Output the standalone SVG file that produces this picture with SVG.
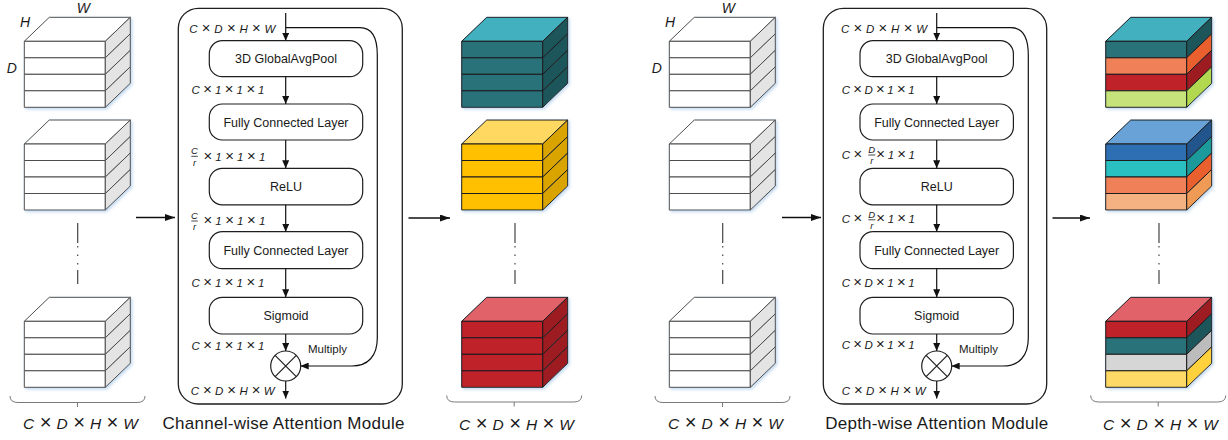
<svg xmlns="http://www.w3.org/2000/svg" xmlns:xlink="http://www.w3.org/1999/xlink" width="1228" height="440" viewBox="0 0 1228 440">
  <style>
    text { font-family: "Liberation Sans", Arial, sans-serif; fill: #1a1a1a; }
    .dim { font-style: italic; font-size: 11.5px; }
    .frac { font-style: italic; font-size: 9.5px; text-anchor: middle; }
    .axis { font-style: italic; font-size: 14px; }
    .total { font-style: italic; font-size: 15.5px; }
    .title { font-size: 17px; }
    .lbl { font-size: 12.5px; text-anchor: middle; }
    .mul { font-size: 11.5px; }
    .x { font-size: 1.3em; }
    .bar { stroke: #1a1a1a; stroke-width: 0.8; }
    .frame { fill: #fff; stroke: #1e1e1e; stroke-width: 1.3; }
    .box { fill: #fff; stroke: #1e1e1e; stroke-width: 1.2; }
    .flow { fill: none; stroke: #111; stroke-width: 1.2; }
    .big { fill: none; stroke: #111; stroke-width: 1.6; }
    .brace { fill: none; stroke: #7a7a7a; stroke-width: 1; }
    .dots { fill: none; stroke: #444; stroke-width: 1.2; }
    .white { --t:#fff; --f1:#fff; --f2:#fff; --f3:#fff; --f4:#fff; --s1:#e4e4e4; --s2:#e4e4e4; --s3:#e4e4e4; --s4:#e4e4e4; stroke:#4d4d4d; }
    .teal { --t:#43b0be; --f1:#2c7279; --f2:#2c7279; --f3:#2c7279; --f4:#2c7279; --s1:#1e545a; --s2:#1e545a; --s3:#1e545a; --s4:#1e545a; stroke:#1a1a1a; }
    .gold { --t:#ffd862; --f1:#ffc000; --f2:#ffc000; --f3:#ffc000; --f4:#ffc000; --s1:#d9a400; --s2:#d9a400; --s3:#d9a400; --s4:#d9a400; stroke:#1a1a1a; }
    .red { --t:#e2626b; --f1:#c0222b; --f2:#c0222b; --f3:#c0222b; --f4:#c0222b; --s1:#9d1b22; --s2:#9d1b22; --s3:#9d1b22; --s4:#9d1b22; stroke:#1a1a1a; }
    .mixA { --t:#43b0be; --f1:#2c7279; --f2:#f08058; --f3:#c0222b; --f4:#c6e27a; --s1:#1e545a; --s2:#e95e2e; --s3:#9d1b22; --s4:#b2d84f; stroke:#1a1a1a; }
    .mixB { --t:#68a2d6; --f1:#2f6eb2; --f2:#2abfc0; --f3:#f08058; --f4:#f4b182; --s1:#23548c; --s2:#1f9a9b; --s3:#e95e2e; --s4:#f09b55; stroke:#1a1a1a; }
    .mixC { --t:#e2626b; --f1:#c0222b; --f2:#2c7279; --f3:#d6d6d6; --f4:#ffd966; --s1:#9d1b22; --s2:#1e545a; --s3:#bcbcbc; --s4:#ffd23d; stroke:#1a1a1a; }
  </style>
  <defs>
    <filter id="glow" x="-20%" y="-20%" width="140%" height="140%">
      <feDropShadow dx="1.5" dy="1.5" stdDeviation="1.5" flood-color="#8fb8e0" flood-opacity="0.55"/>
    </filter>
    <marker id="ah" viewBox="0 0 8 7" refX="8" refY="3.5" markerWidth="8" markerHeight="7" markerUnits="userSpaceOnUse" orient="auto">
      <path d="M0,0 L8,3.5 L0,7 z" fill="#111"/>
    </marker>
    <marker id="ahBig" viewBox="0 0 10 7" refX="10" refY="3.5" markerWidth="10" markerHeight="7" markerUnits="userSpaceOnUse" orient="auto">
      <path d="M0,0 L10,3.5 L0,7 z" fill="#111"/>
    </marker>
    <!-- four-slice cube; colours come from custom properties on the <use> -->
    <g id="cube" stroke-width="1" stroke-linejoin="round">
      <polygon points="0,24 25,0 106,0 81,24" style="fill:var(--t)"/>
      <rect x="0" y="24" width="81" height="16.5" style="fill:var(--f1)"/>
      <rect x="0" y="40.5" width="81" height="16.5" style="fill:var(--f2)"/>
      <rect x="0" y="57" width="81" height="16.5" style="fill:var(--f3)"/>
      <rect x="0" y="73.5" width="81" height="16.5" style="fill:var(--f4)"/>
      <polygon points="81,24 106,0 106,16.5 81,40.5" style="fill:var(--s1)"/>
      <polygon points="81,40.5 106,16.5 106,33 81,57" style="fill:var(--s2)"/>
      <polygon points="81,57 106,33 106,49.5 81,73.5" style="fill:var(--s3)"/>
      <polygon points="81,73.5 106,49.5 106,66 81,90" style="fill:var(--s4)"/>
    </g>
    <g id="vdots" class="dots">
      <line x1="0" y1="223" x2="0" y2="243"/>
      <line x1="0" y1="246" x2="0" y2="247.5"/>
      <line x1="0" y1="254.5" x2="0" y2="256"/>
      <line x1="0" y1="263" x2="0" y2="264.5"/>
      <line x1="0" y1="270" x2="0" y2="284"/>
    </g>
    <path id="brace" class="brace" d="M0,396 Q0,402.5 8,402.5 H127 Q135,402.5 135,396 M67.5,402.5 V407"/>
  </defs>

  <!-- ============ Channel-wise part ============ -->
  <g id="input-left">
    <use xlink:href="#cube" class="white" transform="translate(24.3,17.3)" filter="url(#glow)"/>
    <use xlink:href="#cube" class="white" transform="translate(24.3,120)" filter="url(#glow)"/>
    <use xlink:href="#cube" class="white" transform="translate(24.3,297.3)" filter="url(#glow)"/>
    <use xlink:href="#vdots" transform="translate(77.7,0)"/>
    <use xlink:href="#brace" transform="translate(10,0)"/>
    <text class="axis" x="76.7" y="12.7">W</text>
    <text class="axis" x="20" y="26.7">H</text>
    <text class="axis" x="6.7" y="73.3">D</text>
    <text class="total" x="23" y="429" textLength="115">C <tspan class="x">×</tspan> D <tspan class="x">×</tspan> H <tspan class="x">×</tspan> W</text>
  </g>

  <g id="channel-module">
    <rect class="frame" x="178.3" y="8.3" width="224" height="395.7" rx="20"/>
    <g id="ch-pool">
      <rect class="box" x="209.3" y="40.7" width="153.4" height="36" rx="13"/>
      <text class="lbl" x="286" y="63">3D GlobalAvgPool</text>
    </g>
    <g id="ch-fc1">
      <rect class="box" x="209.3" y="104" width="153.4" height="36" rx="13"/>
      <text class="lbl" x="286" y="126.5">Fully Connected Layer</text>
    </g>
    <g id="ch-relu">
      <rect class="box" x="209.3" y="168.3" width="153.4" height="36.5" rx="13"/>
      <text class="lbl" x="286" y="191">ReLU</text>
    </g>
    <g id="ch-fc2">
      <rect class="box" x="209.3" y="231.7" width="153.4" height="37" rx="13"/>
      <text class="lbl" x="286" y="254.5">Fully Connected Layer</text>
    </g>
    <g id="ch-sigmoid">
      <rect class="box" x="209.3" y="297.3" width="153.4" height="36.7" rx="13"/>
      <text class="lbl" x="286" y="320">Sigmoid</text>
    </g>
    <g id="ch-multiply">
      <circle cx="285.7" cy="366" r="15" fill="#fff" stroke="#1e1e1e" stroke-width="1.2"/>
      <path d="M275.1,355.4 L296.3,376.6 M296.3,355.4 L275.1,376.6" stroke="#1e1e1e" stroke-width="1.2"/>
      <text class="mul" x="308" y="353.3">Multiply</text>
    </g>
    <g id="ch-dims">
      <text class="dim" x="189.3" y="33.3" textLength="86">C <tspan class="x">×</tspan> D <tspan class="x">×</tspan> H <tspan class="x">×</tspan> W</text>
      <text class="dim" x="191.5" y="94.3" textLength="73">C <tspan class="x">×</tspan> 1 <tspan class="x">×</tspan> 1 <tspan class="x">×</tspan> 1</text>
      <text class="frac" x="194.5" y="154.3">C</text>
      <line class="bar" x1="191.3" y1="156.3" x2="197.8" y2="156.3"/>
      <text class="frac" x="194.5" y="165.5">r</text>
      <text class="dim" x="203.3" y="160.7" textLength="62"><tspan class="x">×</tspan> 1 <tspan class="x">×</tspan> 1 <tspan class="x">×</tspan> 1</text>
      <text class="frac" x="194.5" y="219">C</text>
      <line class="bar" x1="191.3" y1="221" x2="197.8" y2="221"/>
      <text class="frac" x="194.5" y="230.2">r</text>
      <text class="dim" x="203.3" y="225" textLength="62"><tspan class="x">×</tspan> 1 <tspan class="x">×</tspan> 1 <tspan class="x">×</tspan> 1</text>
      <text class="dim" x="191.5" y="286.5" textLength="73">C <tspan class="x">×</tspan> 1 <tspan class="x">×</tspan> 1 <tspan class="x">×</tspan> 1</text>
      <text class="dim" x="191.5" y="350" textLength="73">C <tspan class="x">×</tspan> 1 <tspan class="x">×</tspan> 1 <tspan class="x">×</tspan> 1</text>
      <text class="dim" x="190.7" y="395" textLength="84">C <tspan class="x">×</tspan> D <tspan class="x">×</tspan> H <tspan class="x">×</tspan> W</text>
    </g>
    <text class="title" x="283.5" y="429" text-anchor="middle" textLength="242">Channel-wise Attention Module</text>
  </g>

  <g id="output-left">
    <use xlink:href="#cube" class="teal" transform="translate(461.7,17.3)" filter="url(#glow)"/>
    <use xlink:href="#cube" class="gold" transform="translate(461.7,120)" filter="url(#glow)"/>
    <use xlink:href="#cube" class="red" transform="translate(461.7,297.3)" filter="url(#glow)"/>
    <use xlink:href="#vdots" transform="translate(515,0)"/>
    <use xlink:href="#brace" transform="translate(446.7,-0.5)"/>
    <text class="total" x="459" y="430" textLength="115">C <tspan class="x">×</tspan> D <tspan class="x">×</tspan> H <tspan class="x">×</tspan> W</text>
  </g>

  <!-- ============ Depth-wise part ============ -->
  <g id="input-right">
    <use xlink:href="#cube" class="white" transform="translate(669.3,17.3)" filter="url(#glow)"/>
    <use xlink:href="#cube" class="white" transform="translate(669.3,120)" filter="url(#glow)"/>
    <use xlink:href="#cube" class="white" transform="translate(669.3,297.3)" filter="url(#glow)"/>
    <use xlink:href="#vdots" transform="translate(722.7,0)"/>
    <use xlink:href="#brace" transform="translate(655,0)"/>
    <text class="axis" x="721.7" y="12.7">W</text>
    <text class="axis" x="665" y="26.7">H</text>
    <text class="axis" x="651.7" y="73.3">D</text>
    <text class="total" x="668" y="429" textLength="115">C <tspan class="x">×</tspan> D <tspan class="x">×</tspan> H <tspan class="x">×</tspan> W</text>
  </g>

  <g id="depth-module">
    <rect class="frame" x="823.3" y="8.3" width="223.4" height="395.7" rx="20"/>
    <g id="dp-pool">
      <rect class="box" x="860" y="40.7" width="153.4" height="36" rx="13"/>
      <text class="lbl" x="936.7" y="63">3D GlobalAvgPool</text>
    </g>
    <g id="dp-fc1">
      <rect class="box" x="860" y="104" width="153.4" height="36" rx="13"/>
      <text class="lbl" x="936.7" y="126.5">Fully Connected Layer</text>
    </g>
    <g id="dp-relu">
      <rect class="box" x="860" y="168.3" width="153.4" height="36.5" rx="13"/>
      <text class="lbl" x="936.7" y="191">ReLU</text>
    </g>
    <g id="dp-fc2">
      <rect class="box" x="860" y="231.7" width="153.4" height="37" rx="13"/>
      <text class="lbl" x="936.7" y="254.5">Fully Connected Layer</text>
    </g>
    <g id="dp-sigmoid">
      <rect class="box" x="860" y="297.3" width="153.4" height="36.7" rx="13"/>
      <text class="lbl" x="936.7" y="320">Sigmoid</text>
    </g>
    <g id="dp-multiply">
      <circle cx="936.7" cy="366" r="15" fill="#fff" stroke="#1e1e1e" stroke-width="1.2"/>
      <path d="M926.1,355.4 L947.3,376.6 M947.3,355.4 L926.1,376.6" stroke="#1e1e1e" stroke-width="1.2"/>
      <text class="mul" x="959" y="353.3">Multiply</text>
    </g>
    <g id="dp-dims">
      <text class="dim" x="841" y="33.3" textLength="86">C <tspan class="x">×</tspan> D <tspan class="x">×</tspan> H <tspan class="x">×</tspan> W</text>
      <text class="dim" x="841.7" y="94.3" textLength="73">C <tspan class="x">×</tspan> D <tspan class="x">×</tspan> 1 <tspan class="x">×</tspan> 1</text>
      <text class="dim" x="841.7" y="159.3">C <tspan class="x">×</tspan></text>
      <text class="frac" x="871.8" y="153">D</text>
      <line class="bar" x1="868.3" y1="155" x2="875.3" y2="155"/>
      <text class="frac" x="871.8" y="164.2">r</text>
      <text class="dim" x="876" y="159.3" textLength="39"><tspan class="x">×</tspan> 1 <tspan class="x">×</tspan> 1</text>
      <text class="dim" x="841.7" y="223.3">C <tspan class="x">×</tspan></text>
      <text class="frac" x="871.8" y="217.8">D</text>
      <line class="bar" x1="868.3" y1="219.8" x2="875.3" y2="219.8"/>
      <text class="frac" x="871.8" y="229">r</text>
      <text class="dim" x="876" y="223.3" textLength="39"><tspan class="x">×</tspan> 1 <tspan class="x">×</tspan> 1</text>
      <text class="dim" x="841.7" y="286.5" textLength="73">C <tspan class="x">×</tspan> D <tspan class="x">×</tspan> 1 <tspan class="x">×</tspan> 1</text>
      <text class="dim" x="841.7" y="349" textLength="73">C <tspan class="x">×</tspan> D <tspan class="x">×</tspan> 1 <tspan class="x">×</tspan> 1</text>
      <text class="dim" x="841.7" y="395" textLength="84">C <tspan class="x">×</tspan> D <tspan class="x">×</tspan> H <tspan class="x">×</tspan> W</text>
    </g>
    <text class="title" x="936.7" y="429" text-anchor="middle" textLength="223">Depth-wise Attention Module</text>
  </g>

  <g id="output-right">
    <use xlink:href="#cube" class="mixA" transform="translate(1105.7,17.3)" filter="url(#glow)"/>
    <use xlink:href="#cube" class="mixB" transform="translate(1105.7,120)" filter="url(#glow)"/>
    <use xlink:href="#cube" class="mixC" transform="translate(1105.7,297.3)" filter="url(#glow)"/>
    <use xlink:href="#vdots" transform="translate(1159,0)"/>
    <use xlink:href="#brace" transform="translate(1090.7,-0.5)"/>
    <text class="total" x="1103" y="430" textLength="115">C <tspan class="x">×</tspan> D <tspan class="x">×</tspan> H <tspan class="x">×</tspan> W</text>
  </g>

  <!-- ============ connectors ============ -->
  <g id="connectors">
    <line class="big" x1="136" y1="217.5" x2="175" y2="217.5" marker-end="url(#ahBig)"/>
    <line class="big" x1="408.5" y1="218" x2="450" y2="218" marker-end="url(#ahBig)"/>
    <line class="big" x1="782" y1="217.5" x2="821" y2="217.5" marker-end="url(#ahBig)"/>
    <line class="big" x1="1052.5" y1="218" x2="1090" y2="218" marker-end="url(#ahBig)"/>

    <line class="flow" x1="285.7" y1="13" x2="285.7" y2="40.7" marker-end="url(#ah)"/>
    <line class="flow" x1="285.7" y1="76.7" x2="285.7" y2="104" marker-end="url(#ah)"/>
    <line class="flow" x1="285.7" y1="140" x2="285.7" y2="168.3" marker-end="url(#ah)"/>
    <line class="flow" x1="285.7" y1="204.8" x2="285.7" y2="231.7" marker-end="url(#ah)"/>
    <line class="flow" x1="285.7" y1="268.7" x2="285.7" y2="297.3" marker-end="url(#ah)"/>
    <line class="flow" x1="285.7" y1="334" x2="285.7" y2="351" marker-end="url(#ah)"/>
    <line class="flow" x1="285.7" y1="381" x2="285.7" y2="398.5" marker-end="url(#ah)"/>
    <path class="flow" d="M285.7,27.7 H360 C372,27.7 377.3,38 377.3,55 V338 C377.3,356 368,366 352,366 H300.7" marker-end="url(#ah)"/>

    <line class="flow" x1="936.7" y1="13" x2="936.7" y2="40.7" marker-end="url(#ah)"/>
    <line class="flow" x1="936.7" y1="76.7" x2="936.7" y2="104" marker-end="url(#ah)"/>
    <line class="flow" x1="936.7" y1="140" x2="936.7" y2="168.3" marker-end="url(#ah)"/>
    <line class="flow" x1="936.7" y1="204.8" x2="936.7" y2="231.7" marker-end="url(#ah)"/>
    <line class="flow" x1="936.7" y1="268.7" x2="936.7" y2="297.3" marker-end="url(#ah)"/>
    <line class="flow" x1="936.7" y1="334" x2="936.7" y2="351" marker-end="url(#ah)"/>
    <line class="flow" x1="936.7" y1="381" x2="936.7" y2="398.5" marker-end="url(#ah)"/>
    <path class="flow" d="M936.7,27.7 H1011 C1023,27.7 1028.3,38 1028.3,55 V338 C1028.3,356 1019,366 1003,366 H951.7" marker-end="url(#ah)"/>
  </g>
</svg>
